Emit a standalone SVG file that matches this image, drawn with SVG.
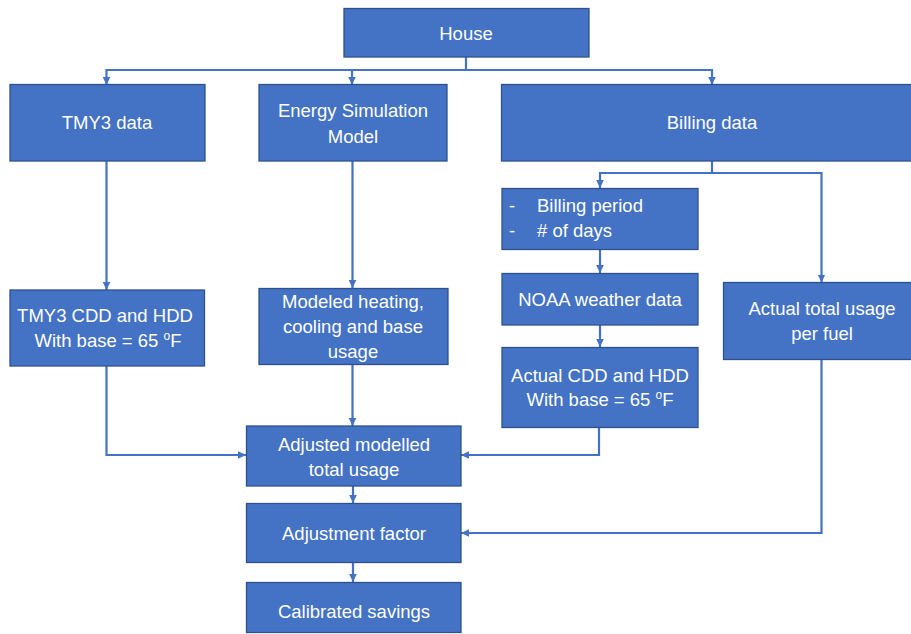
<svg xmlns="http://www.w3.org/2000/svg" width="911" height="634" viewBox="0 0 911 634">
<style>
.box{fill:#4472C4;stroke:#2F528F;stroke-width:1.3}
.t{font-family:"Liberation Sans",Arial,sans-serif;font-size:18.5px;fill:#fff;text-anchor:middle}
.tl{font-family:"Liberation Sans",Arial,sans-serif;font-size:18.5px;fill:#fff}
.c{fill:none;stroke:#4472C4;stroke-width:2.2}
.sup{font-size:12px}
</style>
<defs>
<marker id="ah" markerUnits="userSpaceOnUse" markerWidth="10" markerHeight="10" refX="8" refY="5" orient="auto">
<path d="M0,1.2 L8,5 L0,8.8 Z" fill="#4472C4"/>
</marker>
</defs>
<rect width="911" height="634" fill="#fff"/>
<g id="connectors">
<path class="c" d="M466,57 V70"/>
<path class="c" d="M466,70 H106.5 V85" marker-end="url(#ah)"/>
<path class="c" d="M466,70 H352 V85" marker-end="url(#ah)"/>
<path class="c" d="M466,70 H712 V85" marker-end="url(#ah)"/>
<path class="c" d="M106.5,161 V290" marker-end="url(#ah)"/>
<path class="c" d="M352.5,161 V288" marker-end="url(#ah)"/>
<path class="c" d="M712,161 V173 H600 V188" marker-end="url(#ah)"/>
<path class="c" d="M712,173 H821.5 V282.5" marker-end="url(#ah)"/>
<path class="c" d="M600,249.5 V273" marker-end="url(#ah)"/>
<path class="c" d="M600,325 V347" marker-end="url(#ah)"/>
<path class="c" d="M106.5,366 V455 H246" marker-end="url(#ah)"/>
<path class="c" d="M352.5,364.5 V426" marker-end="url(#ah)"/>
<path class="c" d="M599,428 V455 H461" marker-end="url(#ah)"/>
<path class="c" d="M353,486 V503" marker-end="url(#ah)"/>
<path class="c" d="M821.5,359.5 V533 H461" marker-end="url(#ah)"/>
<path class="c" d="M353,563 V582" marker-end="url(#ah)"/>
</g>
<g id="house"><rect class="box" x="344" y="8.5" width="245" height="48.5"/><text class="t" x="466" y="39.5">House</text></g>
<g id="tmy3"><rect class="box" x="10" y="84.5" width="195" height="76.5"/><text class="t" x="107" y="129">TMY3 data</text></g>
<g id="esm"><rect class="box" x="259" y="84.5" width="188" height="76.5"/><text class="t" x="353" y="116.5">Energy Simulation</text><text class="t" x="353" y="142.5">Model</text></g>
<g id="billing"><rect class="box" x="501.5" y="84.5" width="412" height="76.5"/><text class="t" x="712" y="129">Billing data</text></g>
<g id="period"><rect class="box" x="502" y="188.5" width="196" height="61"/><text class="tl" x="509" y="212">-</text><text class="tl" x="537" y="212">Billing period</text><text class="tl" x="509" y="237">-</text><text class="tl" x="537" y="237"># of days</text></g>
<g id="noaa"><rect class="box" x="502" y="273.5" width="196" height="51.5"/><text class="t" x="600" y="305.5">NOAA weather data</text></g>
<g id="actualdd"><rect class="box" x="502" y="347.5" width="196" height="80"/><text class="t" x="600" y="381.5">Actual CDD and HDD</text><text class="t" x="600" y="405.5">With base = 65 <tspan class="sup" dy="-7">o</tspan><tspan dy="7">F</tspan></text></g>
<g id="actualusage"><rect class="box" x="723.5" y="282.5" width="190" height="77"/><text class="t" x="822" y="314.5">Actual total usage</text><text class="t" x="822" y="339.5">per fuel</text></g>
<g id="tmy3dd"><rect class="box" x="10" y="290" width="194.5" height="76"/><text class="t" x="105" y="321.5">TMY3 CDD and HDD</text><text class="t" x="108" y="346.5">With base = 65 <tspan class="sup" dy="-7">o</tspan><tspan dy="7">F</tspan></text></g>
<g id="modeled"><rect class="box" x="259" y="288.5" width="189" height="76"/><text class="t" x="353" y="308">Modeled heating,</text><text class="t" x="353" y="333">cooling and base</text><text class="t" x="353" y="358">usage</text></g>
<g id="adjusted"><rect class="box" x="246.5" y="426" width="214.5" height="60"/><text class="t" x="354" y="450.5">Adjusted modelled</text><text class="t" x="354" y="475.5">total usage</text></g>
<g id="factor"><rect class="box" x="246.5" y="503.5" width="214.5" height="59"/><text class="t" x="354" y="540">Adjustment factor</text></g>
<g id="savings"><rect class="box" x="246.5" y="582.5" width="214.5" height="50"/><text class="t" x="354" y="618">Calibrated savings</text></g>
</svg>
